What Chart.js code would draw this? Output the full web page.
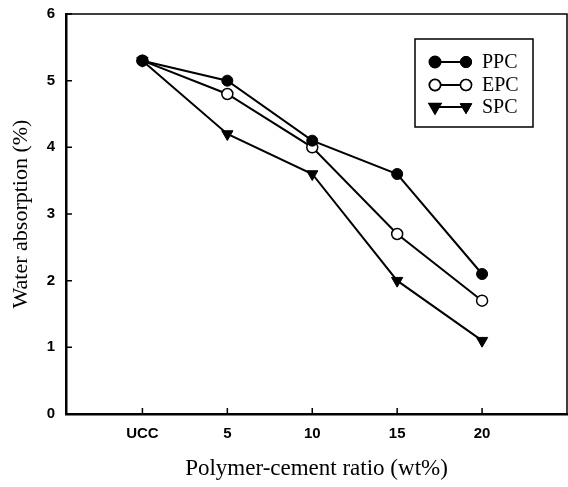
<!DOCTYPE html>
<html>
<head>
<meta charset="utf-8">
<script src="https://cdn.jsdelivr.net/npm/chart.js@4/dist/chart.umd.min.js"></script>
<style>
  html, body { margin: 0; padding: 0; background: #fff; }
  canvas { display: block; }
</style>
</head>
<body>
<canvas id="chart" width="568" height="487"></canvas>
<script>
// Data
const categories = ['UCC', '5', '10', '15', '20'];
const xValues = [0, 5, 10, 15, 20];
const ppc = [5.3, 5.0, 4.1, 3.6, 2.1];
const epc = [5.3, 4.8, 4.0, 2.7, 1.7];
const spc = [5.3, 4.2, 3.6, 2.0, 1.1];
const yTicks = [0, 1, 2, 3, 4, 5, 6];

function toPoints(vals) {
    return vals.map((v, i) => ({ x: xValues[i], y: v }));
}

const serif = '"Liberation Serif", "Times New Roman", serif';
const sans = '"Liberation Sans", Arial, sans-serif';

// frame on top/right, ticks pointing inward, and the boxed legend
const framePlugin = {
    id: 'frame',
    afterDraw(chart) {
        const ctx = chart.ctx;
        const a = chart.chartArea;
        const xs = chart.scales.x, ys = chart.scales.y;
        ctx.save();
        ctx.strokeStyle = '#000';
        ctx.lineWidth = 1.5;
        ctx.beginPath();
        ctx.moveTo(a.left, a.top);
        ctx.lineTo(a.right, a.top);
        ctx.lineTo(a.right, a.bottom);
        ctx.stroke();

        ctx.beginPath();
        xValues.forEach(v => {
            const px = xs.getPixelForValue(v);
            ctx.moveTo(px, a.bottom);
            ctx.lineTo(px, a.bottom - 6);
        });
        yTicks.forEach(v => {
            const py = ys.getPixelForValue(v);
            ctx.moveTo(a.left, py);
            ctx.lineTo(a.left + 6, py);
        });
        ctx.stroke();

        // legend
        const bx = 415, by = 39, bw = 118, bh = 88;
        ctx.lineWidth = 1.5;
        ctx.strokeRect(bx, by, bw, bh);
        const rows = [62, 85, 107];
        chart.data.datasets.forEach((ds, i) => {
            const y = rows[i];
            const x1 = 435, x2 = 466;
            ctx.lineWidth = 2;
            ctx.strokeStyle = '#000';
            ctx.beginPath();
            ctx.moveTo(x1, y);
            ctx.lineTo(x2, y);
            ctx.stroke();
            [x1, x2].forEach(px => {
                Chart.helpers.drawPoint(ctx, {
                    pointStyle: ds.pointStyle,
                    rotation: ds.pointRotation || 0,
                    radius: ds.pointRadius,
                    borderWidth: ds.pointBorderWidth
                }, px, y);
                ctx.fillStyle = ds.pointBackgroundColor;
                ctx.strokeStyle = '#000';
                ctx.lineWidth = ds.pointBorderWidth;
                ctx.fill();
                ctx.stroke();
            });
            ctx.fillStyle = '#000';
            ctx.font = '20px ' + serif;
            ctx.textBaseline = 'middle';
            ctx.textAlign = 'left';
            ctx.fillText(ds.label, 482, y + 1);
        });
        ctx.restore();
    }
};

const ctx = document.getElementById('chart').getContext('2d');
const lineChart = new Chart(ctx, {
    type: 'line',
    data: {
        datasets: [
            {
                label: 'PPC', data: toPoints(ppc),
                borderColor: '#000', borderWidth: 2,
                pointStyle: 'circle', pointRadius: 5.5,
                pointBackgroundColor: '#000', pointBorderColor: '#000', pointBorderWidth: 1
            },
            {
                label: 'EPC', data: toPoints(epc),
                borderColor: '#000', borderWidth: 2,
                pointStyle: 'circle', pointRadius: 5.5,
                pointBackgroundColor: '#fff', pointBorderColor: '#000', pointBorderWidth: 1.5
            },
            {
                label: 'SPC', data: toPoints(spc),
                borderColor: '#000', borderWidth: 2,
                pointStyle: 'triangle', pointRotation: 180, pointRadius: 6.5,
                pointBackgroundColor: '#000', pointBorderColor: '#000', pointBorderWidth: 1
            }
        ]
    },
    options: {
        responsive: false,
        animation: false,
        layout: { autoPadding: false, padding: { top: 14, right: 1, left: 0, bottom: 0 } },
        plugins: { legend: { display: false }, tooltip: { enabled: false } },
        scales: {
            x: {
                type: 'linear',
                min: -4.5, max: 25,
                afterBuildTicks: s => { s.ticks = xValues.map(v => ({ value: v })); },
                afterFit: s => { s.height = 73; s.paddingLeft = 0; s.paddingRight = 0; },
                grid: { display: false, drawTicks: false },
                border: { display: true, color: '#000', width: 2.5 },
                ticks: {
                    padding: 11,
                    color: '#000',
                    font: { family: sans, size: 15, weight: 'bold' },
                    callback: v => categories[xValues.indexOf(v)]
                },
                title: {
                    display: true,
                    text: 'Polymer-cement ratio (wt%)',
                    color: '#000',
                    font: { family: serif, size: 23 },
                    padding: { top: 4 }
                }
            },
            y: {
                min: 0, max: 6,
                afterBuildTicks: s => { s.ticks = yTicks.map(v => ({ value: v })); },
                afterFit: s => { s.width = 66; s.paddingTop = 0; s.paddingBottom = 0; },
                grid: { display: false, drawTicks: false },
                border: { display: true, color: '#000', width: 2.5 },
                ticks: {
                    padding: 11,
                    color: '#000',
                    font: { family: sans, size: 15, weight: 'bold' }
                },
                title: {
                    display: true,
                    text: 'Water absorption (%)',
                    color: '#000',
                    font: { family: serif, size: 22 },
                    padding: { top: 8, bottom: 0 }
                }
            }
        }
    },
    plugins: [framePlugin]
});
</script>
</body>
</html>
